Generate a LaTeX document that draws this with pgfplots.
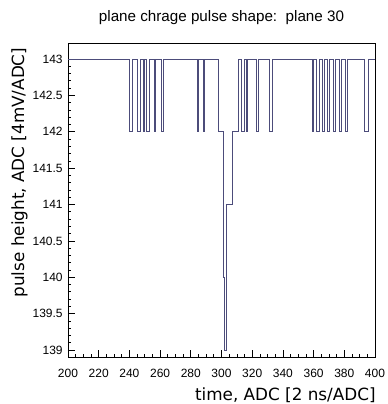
\documentclass[border=0pt]{standalone}
\usepackage{pgfplots}
\pgfplotsset{compat=1.18}
\usepackage{fontspec}
\setmainfont{Liberation Sans}
\newfontfamily\dejavu{DejaVu Sans}
\definecolor{histline}{rgb}{0.30,0.30,0.48}
\begin{document}
\begin{tikzpicture}[x=1pt,y=1pt]
\path[use as bounding box] (-51pt,-35.25pt) rectangle (239.25pt,267.75pt);
\begin{axis}[
  at={(0pt,0pt)}, anchor=south west,
  scale only axis, width=230.25pt, height=235.5pt,
  xmin=200, xmax=400, ymin=138.904, ymax=143.22,
  xtick={200,220,...,400}, minor x tick num=3,
  ytick={139,139.5,...,143}, minor y tick num=4,
  xtick pos=bottom, ytick pos=left, tick align=inside,
  major tick length=5pt, minor tick length=2.5pt,
  tick style={black, line width=0.5pt},
  axis line style={black, line width=0.6pt},
  /pgf/number format/assume math mode=true,
  ticklabel style={font=\fontsize{9}{10}\selectfont},
  x tick label style={yshift=-5.5pt},
  y tick label style={xshift=-0.5pt},
  clip=false,
]
\addplot[const plot, color=histline, line width=0.6pt] coordinates {
(200,143) (240,142) (242,143) (245,142) (247,143) (249,142) (250,143)
(251,142) (253,143) (256,142) (257,143) (261,142) (262,143)
(284,142) (285,143) (288,142) (289,143)
(298,142) (301,140) (302,139) (303,141) (307,142) (311,143)
(313,142) (315,143) (316,142) (317,143) (323,142) (324,143)
(331,142) (333,143)
(359,142) (360,143) (362,142) (364,143) (366,142) (367,143)
(369,142) (370,143) (373,142) (374,143) (377,142) (378,143)
(381,142) (382,143) (393,142) (396,143) (400,143)
};
\end{axis}
\node[anchor=base, font=\fontsize{11.4}{13}\selectfont] at (115.125pt,251.25pt) {plane chrage pulse shape:\ \ plane 30};
\node[anchor=base east, font=\dejavu\fontsize{12.6}{14}\selectfont] at (234.25pt,-32.25pt) {time, ADC [2 ns/ADC]};
\node[anchor=base east, rotate=90, font=\dejavu\fontsize{12.6}{14}\selectfont] at (-33pt,235.5pt) {pulse height, ADC [4mV/ADC]};
\end{tikzpicture}
\end{document}
